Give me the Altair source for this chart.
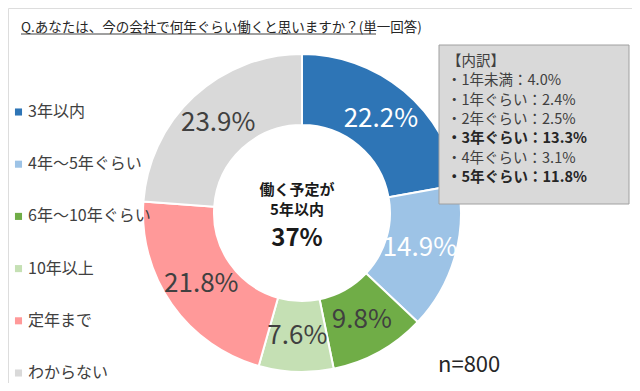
import altair as alt
import pandas as pd

categories = ["3年以内", "4年～5年ぐらい", "6年～10年ぐらい", "10年以上", "定年まで", "わからない"]
values = [22.2, 14.9, 9.8, 7.6, 21.8, 23.9]
colors = ["#2E75B6", "#9DC3E6", "#70AD47", "#C5E0B4", "#FF9999", "#D9D9D9"]
label_colors = ["#FFFFFF", "#FFFFFF", "#404040", "#404040", "#404040", "#404040"]

box_lines = ["【内訳】", "・1年未満：4.0%", "・1年ぐらい：2.4%", "・2年ぐらい：2.5%",
             "・3年ぐらい：13.3%", "・4年ぐらい：3.1%", "・5年ぐらい：11.8%"]
box_bold = [False, False, False, False, True, False, True]

center_lines = ["働く予定が", "5年以内"]
center_big = "37%"

title_text = "Q.あなたは、今の会社で何年ぐらい働くと思いますか？(単一回答)"
n_text = "n=800"

FONT = "Noto Sans CJK JP"
CX, CY = 294, 205

df = pd.DataFrame({
    "cat": categories,
    "v": values,
    "idx": list(range(len(categories))),
    "label": [f"{v:.1f}%" for v in values],
    "tc": label_colors,
})

color_scale = alt.Scale(domain=categories, range=colors)

base = alt.Chart(df)

arcs = base.mark_arc(radius=159, radius2=88, stroke="white", strokeWidth=2).encode(
    theta=alt.Theta("v:Q", stack=True),
    color=alt.Color("cat:N", scale=color_scale, legend=None),
    order=alt.Order("idx:Q"),
    x=alt.value(CX), y=alt.value(CY),
)

labels = base.mark_text(radius=123, font=FONT, fontSize=26).encode(
    theta=alt.Theta("v:Q", stack=True),
    text="label:N",
    color=alt.Color("tc:N", scale=None),
    order=alt.Order("idx:Q"),
    x=alt.value(CX), y=alt.value(CY),
)

leg_y = alt.Y("cat:N", sort=categories, scale=alt.Scale(range=[104, 365], padding=0), axis=None)
leg_sq = base.mark_square(size=50, opacity=1).encode(
    x=alt.value(10.5),
    y=leg_y,
    color=alt.Color("cat:N", scale=color_scale, legend=None),
)
leg_tx = base.mark_text(align="left", baseline="middle", font=FONT, fontSize=16, color="#404040").encode(
    x=alt.value(20),
    y=leg_y,
    text="cat:N",
)

box_df = pd.DataFrame({
    "line": box_lines,
    "bi": list(range(len(box_lines))),
    "fw": ["bold" if b else "normal" for b in box_bold],
})
box_rect = alt.Chart(pd.DataFrame({"a": [0]})).mark_rect(
    fill="#D9D9D9", stroke="#A0A0A0", strokeWidth=1
).encode(x=alt.value(431), x2=alt.value(621), y=alt.value(37), y2=alt.value(196))

box_y = alt.Y("bi:O", scale=alt.Scale(domain=list(range(len(box_lines))), range=[54, 170], padding=0), axis=None)
box_normal = alt.Chart(box_df).transform_filter("datum.fw == 'normal'").mark_text(
    align="left", baseline="middle", font=FONT, fontSize=14.5, color="#404040"
).encode(x=alt.value(439), y=box_y, text="line:N")
box_boldt = alt.Chart(box_df).transform_filter("datum.fw == 'bold'").mark_text(
    align="left", baseline="middle", font=FONT, fontSize=14.5, fontWeight="bold", color="#262626"
).encode(x=alt.value(439), y=box_y, text="line:N")

center_df = pd.DataFrame({"t": center_lines, "ci": [0, 1]})
center = alt.Chart(center_df).mark_text(
    align="center", baseline="middle", font=FONT, fontWeight="bold", fontSize=15, color="#1A1A1A"
).encode(
    x=alt.value(CX - 5),
    y=alt.Y("ci:O", scale=alt.Scale(domain=[0, 1], range=[182, 202], padding=0), axis=None),
    text="t:N",
)
center2 = alt.Chart(pd.DataFrame({"t": [center_big]})).mark_text(
    align="center", baseline="middle", font=FONT, fontWeight="bold", fontSize=24, color="#1A1A1A"
).encode(x=alt.value(CX - 5), y=alt.value(231), text="t:N")

title = alt.Chart(pd.DataFrame({"t": [title_text]})).mark_text(
    align="left", baseline="alphabetic", font=FONT, fontSize=13.5, color="#262626"
).encode(x=alt.value(13), y=alt.value(24), text="t:N")
underline = alt.Chart(pd.DataFrame({"a": [0]})).mark_rule(color="#404040", strokeWidth=1).encode(
    x=alt.value(13), x2=alt.value(368), y=alt.value(26)
)

ntext = alt.Chart(pd.DataFrame({"t": [n_text]})).mark_text(
    align="left", baseline="middle", font=FONT, fontSize=22, color="#262626"
).encode(x=alt.value(430), y=alt.value(357), text="t:N")

chart = alt.layer(
    arcs, labels, leg_sq, leg_tx, box_rect, box_normal, box_boldt, center, center2, title, underline, ntext
).resolve_scale(y="independent", color="independent").properties(
    width=624, height=375, padding=0,
    autosize=alt.AutoSizeParams(type="fit", contains="padding"),
).configure_view(stroke=None).configure(background="white")

chart.save("out.html", embed_options={"renderer": "svg", "actions": False})
